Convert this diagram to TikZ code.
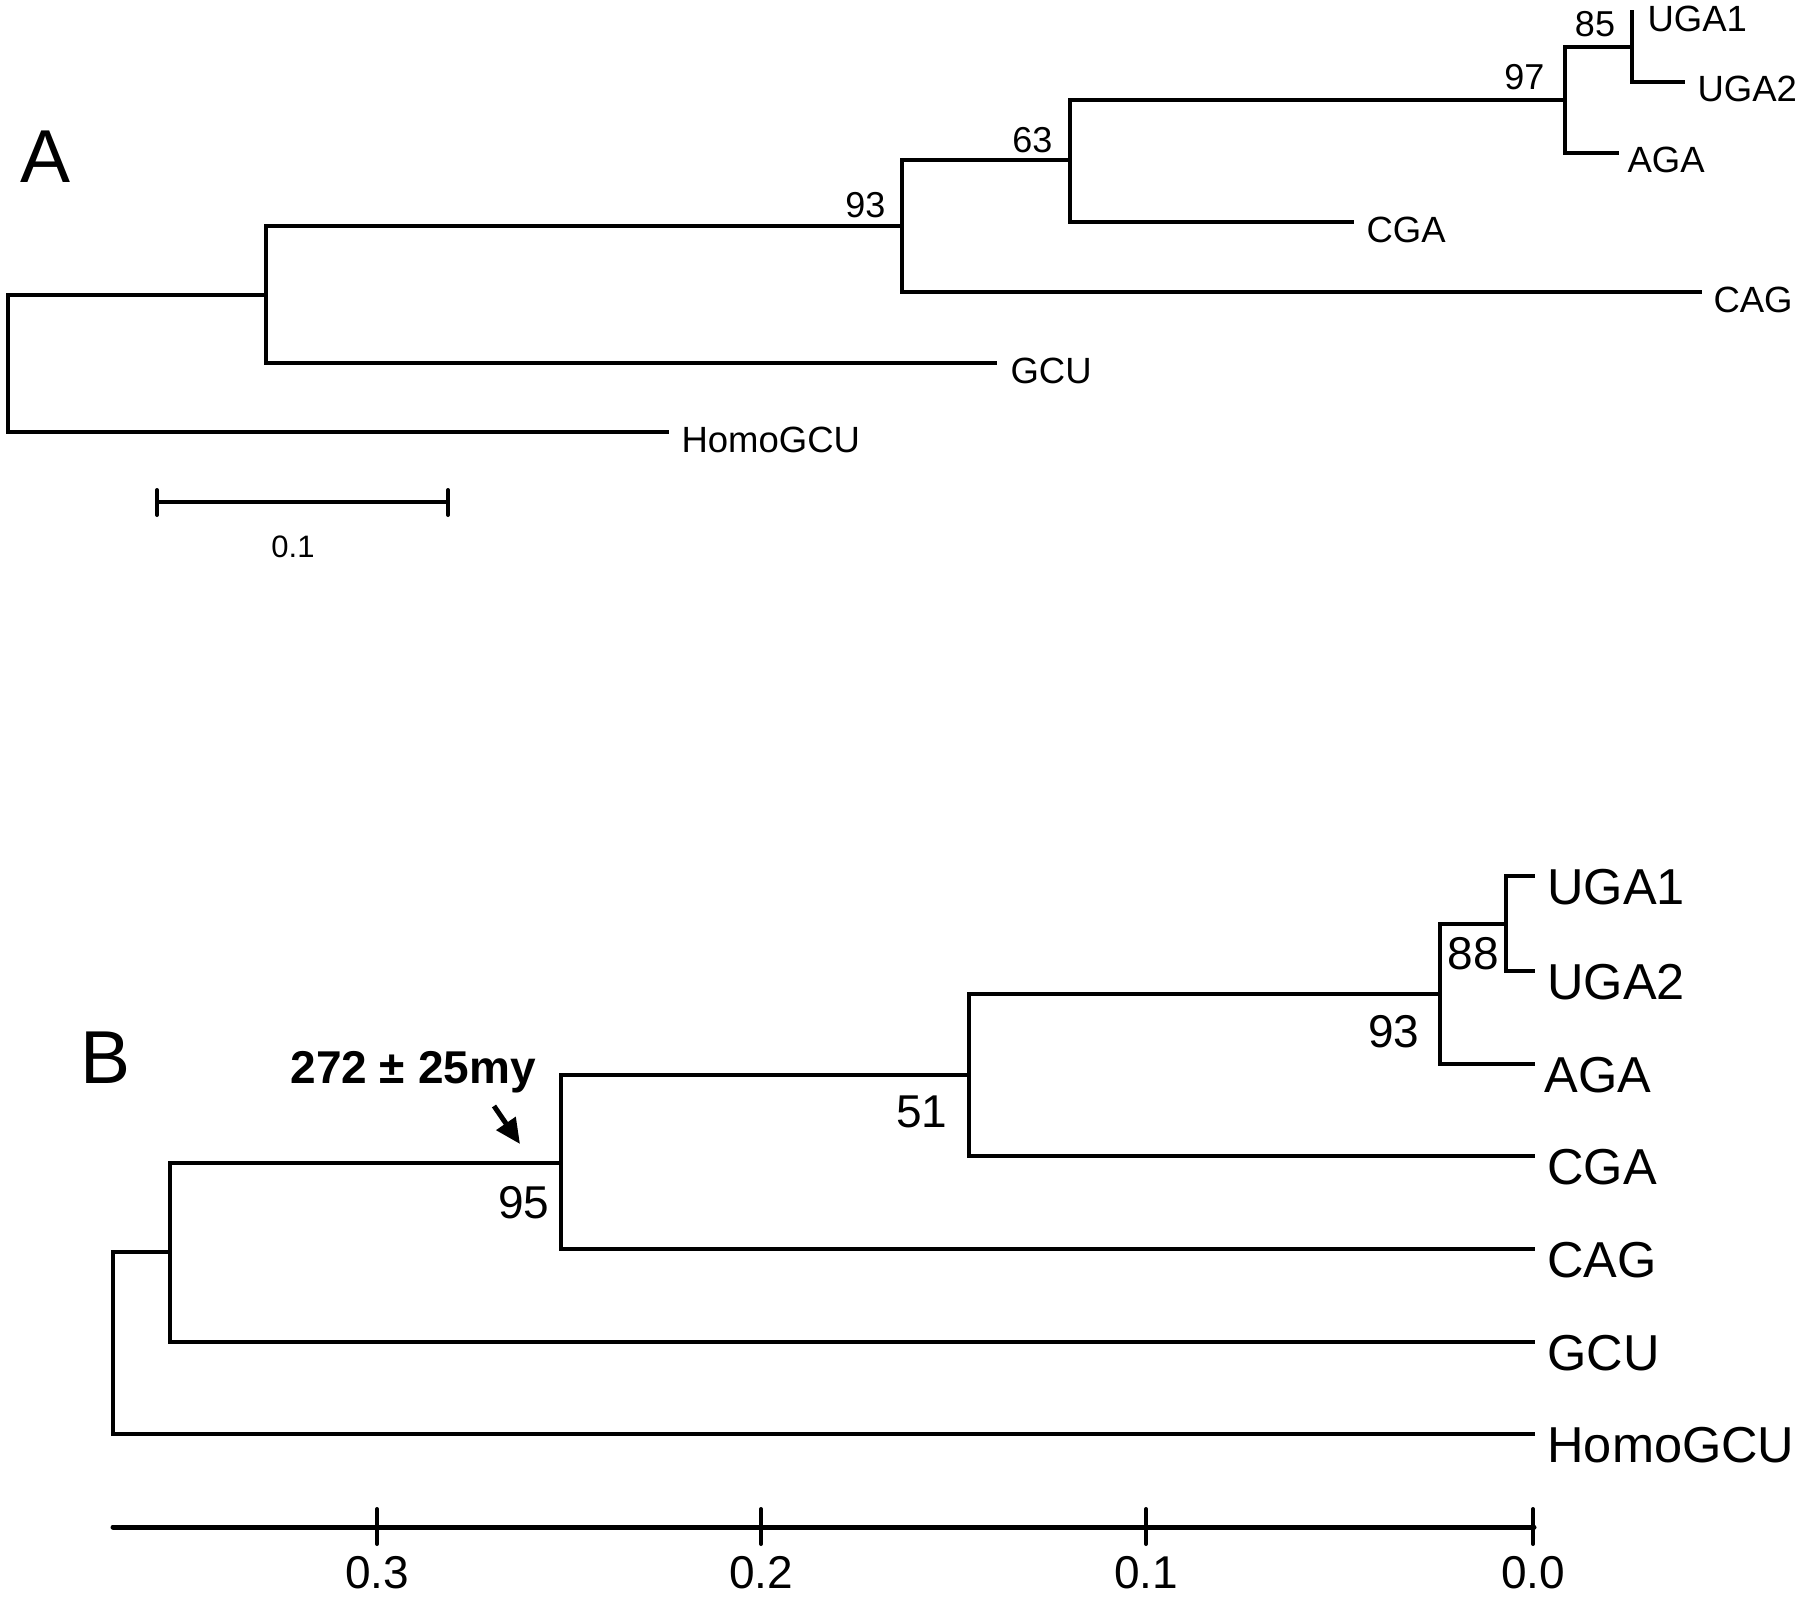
\documentclass[tikz,border=0pt]{standalone}
\usepackage{fontspec}
\setmainfont{Liberation Sans}
\usetikzlibrary{arrows.meta}
\begin{document}
\begin{tikzpicture}[x=0.4pt,y=-0.4pt,
  br/.style={line width=1.6pt,line join=miter,line cap=rect},
  axisln/.style={line width=2pt,line cap=round},
  tickln/.style={line width=1.6pt,line cap=round},
  tipA/.style={anchor=base west,inner sep=0pt,font=\fontsize{14.6}{14.6}\selectfont},
  numA/.style={anchor=base east,inner sep=0pt,font=\fontsize{14.4}{14.4}\selectfont},
  tipB/.style={anchor=base west,inner sep=0pt,font=\fontsize{20.2}{20.2}\selectfont},
  numB/.style={anchor=base east,inner sep=0pt,font=\fontsize{18.4}{18.4}\selectfont},
  panel/.style={anchor=base west,inner sep=0pt,font=\fontsize{30}{30}\selectfont},
  axlab/.style={anchor=base,inner sep=0pt,font=\fontsize{18.4}{18.4}\selectfont}]
\useasboundingbox (0,0) rectangle (1800,1599);

% ---------------- Panel A ----------------
\node[panel] (lettA) at (20,182) {A};
\coordinate (aR)    at (8,362.5);
\coordinate (aN2)   at (266,294.5);
\coordinate (aN93)  at (902,226);
\coordinate (aN63)  at (1070,160.5);
\coordinate (aN97)  at (1565,100.5);
\coordinate (aN85)  at (1632,47);
\coordinate (aHomoT) at (667,432);
\coordinate (aGCUT)  at (995,363);
\coordinate (aCAGT)  at (1700,292);
\coordinate (aCGAT)  at (1352,222);
\coordinate (aAGAT)  at (1617,153);
\coordinate (aUGA1T) at (1632,12);
\coordinate (aUGA2T) at (1683,82);

\draw[br] (aR) |- (aN2);
\draw[br] (aR) |- (aHomoT);
\draw[br] (aN2) |- (aN93);
\draw[br] (aN2) |- (aGCUT);
\draw[br] (aN93) |- (aN63);
\draw[br] (aN93) |- (aCAGT);
\draw[br] (aN63) |- (aN97);
\draw[br] (aN63) |- (aCGAT);
\draw[br] (aN97) |- (aN85);
\draw[br] (aN97) |- (aAGAT);
\draw[br] (aN85) |- (aUGA1T);
\draw[br] (aN85) |- (aUGA2T);

\node[tipA] (aHomo) at (681,452) {HomoGCU};
\node[tipA] (aGCU)  at (1010,383) {GCU};
\node[tipA] (aCAG)  at (1713,312) {CAG};
\node[tipA] (aCGA)  at (1366,242) {CGA};
\node[tipA] (aAGA)  at (1627,173) {AGA};
\node[tipA] (aUGA1) at (1647,32) {UGA1};
\node[tipA] (aUGA2) at (1697,102) {UGA2};

\node[numA] (aB93) at (886,217) {93};
\node[numA] (aB63) at (1053,152) {63};
\node[numA] (aB97) at (1545,90) {97};
\node[anchor=base,inner sep=0pt,font=\fontsize{14.4}{14.4}\selectfont] (aB85) at (1595,37) {85};

% scale bar
\coordinate (sbL) at (157,502);
\coordinate (sbR) at (448,502);
\draw[br] (sbL) -- (sbR);
\draw[tickln] (157,490) -- (157,515);
\draw[tickln] (448,490) -- (448,515);
\node[anchor=base,inner sep=0pt,font=\fontsize{12.4}{12.4}\selectfont] (sbLab) at (293,557) {0.1};

% ---------------- Panel B ----------------
\node[panel] (lettB) at (80,1083) {B};
\coordinate (bR)    at (113,1343);
\coordinate (bN2)   at (170,1252);
\coordinate (bN95)  at (561,1163);
\coordinate (bN51)  at (969,1075);
\coordinate (bN93)  at (1440,993.5);
\coordinate (bN88)  at (1506,923.5);
\coordinate (bHomoT) at (1533,1434);
\coordinate (bGCUT)  at (1533,1342);
\coordinate (bCAGT)  at (1533,1249);
\coordinate (bCGAT)  at (1533,1156);
\coordinate (bAGAT)  at (1533,1064);
\coordinate (bUGA1T) at (1533,876);
\coordinate (bUGA2T) at (1533,971);

\draw[br] (bR) |- (bN2);
\draw[br] (bR) |- (bHomoT);
\draw[br] (bN2) |- (bN95);
\draw[br] (bN2) |- (bGCUT);
\draw[br] (bN95) |- (bN51);
\draw[br] (bN95) |- (bCAGT);
\draw[br] (bN51) |- (bN93);
\draw[br] (bN51) |- (bCGAT);
\draw[br] (bN93) |- (bN88);
\draw[br] (bN93) |- (bAGAT);
\draw[br] (bN88) |- (bUGA1T);
\draw[br] (bN88) |- (bUGA2T);

\node[tipB] (bUGA1) at (1547,904) {UGA1};
\node[tipB] (bUGA2) at (1547,999) {UGA2};
\node[tipB] (bAGA)  at (1544,1092) {AGA};
\node[tipB] (bCGA)  at (1547,1184) {CGA};
\node[tipB] (bCAG)  at (1547,1277) {CAG};
\node[tipB] (bGCU)  at (1547,1370) {GCU};
\node[tipB] (bHomo) at (1547,1462) {HomoGCU};

\node[anchor=base west,inner sep=0pt,font=\fontsize{18.4}{18.4}\selectfont] (bB88) at (1447,969) {88};
\node[numB] (bB93) at (1420,1047) {93};
\node[numB] (bB51) at (948,1127) {51};
\node[numB] (bB95) at (550,1218) {95};

\node[anchor=base west,inner sep=0pt,font=\fontsize{18.4}{18.4}\selectfont\bfseries] (date) at (290,1083) {272 ± 25my};
\coordinate (arS) at (494,1106);
\coordinate (arE) at (520,1144);
\draw[line width=2pt,-{Triangle[length=10pt,width=9pt]}] (arS) -- (arE);

% time axis
\coordinate (axL) at (113,1527);
\coordinate (axR) at (1534,1527);
\draw[axisln] (axL) -- (axR);
\foreach \xx/\lab/\nm in {377/0.3/t3,761/0.2/t2,1146/0.1/t1,1533/0.0/t0}{
  \draw[tickln] (\xx,1509) -- (\xx,1544);
  \node[axlab] (\nm) at (\xx,1588) {\lab};
}
\end{tikzpicture}
\end{document}
